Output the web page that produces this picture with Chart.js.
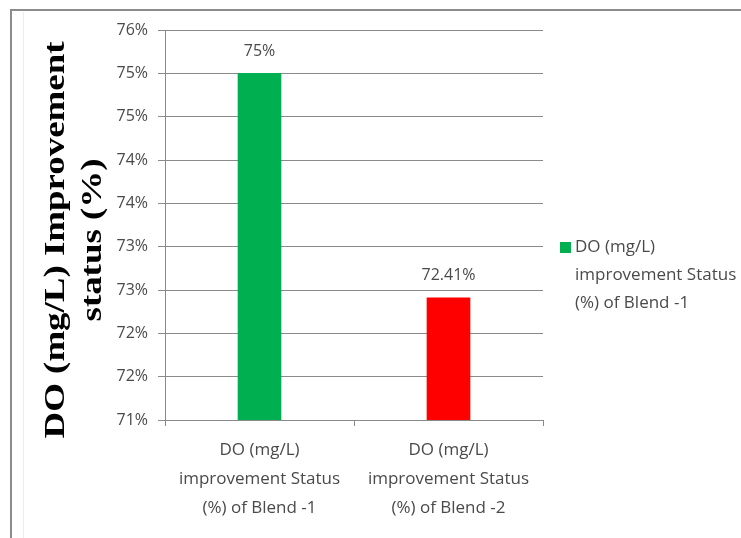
<!DOCTYPE html>
<html>
<head>
<meta charset="utf-8">
<script src="https://cdn.jsdelivr.net/npm/chart.js@4.4.0/dist/chart.umd.min.js"></script>
<style>
  html, body { margin: 0; padding: 0; background: #ffffff; }
  #wrap { width: 741px; height: 538px; position: relative; }
</style>
</head>
<body>
<div id="wrap"><canvas id="chart" width="741" height="538"></canvas></div>
<script>
// Chart data
const categories = [
  ['DO (mg/L)', 'improvement Status', '(%) of Blend -1'],
  ['DO (mg/L)', 'improvement Status', '(%) of Blend -2']
];
const improvementPct = [75, 72.41];
const barColors = ['#00B050', '#FF0000'];
const seriesName = ['DO (mg/L)', 'improvement Status', '(%) of Blend -1'];
const yTitleLines = ['DO (mg/L) Improvement', 'status (%)'];
const yMin = 71;
const yMax = 75.5;
const yStep = 0.5;

const TEXT_COLOR = '#4a4a4a';
const LINE_COLOR = '#8a8a8a';
const SANS = "'Open Sans', 'Liberation Sans', sans-serif";

// White background plus the grey frame along the left and top edges
const framePlugin = {
  id: 'frame',
  beforeDraw(chart) {
    const ctx = chart.ctx;
    ctx.save();
    ctx.fillStyle = '#ffffff';
    ctx.fillRect(0, 0, chart.width, chart.height);
    ctx.strokeStyle = '#8c8c8c';
    ctx.lineWidth = 2;
    ctx.beginPath();
    ctx.moveTo(11, chart.height);
    ctx.lineTo(11, 10);
    ctx.lineTo(chart.width, 10);
    ctx.stroke();
    ctx.strokeStyle = '#ededed';
    ctx.lineWidth = 1;
    ctx.beginPath();
    ctx.moveTo(23.5, chart.height);
    ctx.lineTo(23.5, 12);
    ctx.stroke();
    ctx.restore();
  }
};

// Percentage labels above each bar
const valueLabelPlugin = {
  id: 'valueLabels',
  afterDatasetsDraw(chart) {
    const ctx = chart.ctx;
    const meta = chart.getDatasetMeta(0);
    const values = chart.data.datasets[0].data;
    ctx.save();
    ctx.font = '16px ' + SANS;
    ctx.fillStyle = TEXT_COLOR;
    ctx.textAlign = 'center';
    ctx.textBaseline = 'middle';
    meta.data.forEach((bar, i) => {
      ctx.fillText(values[i] + '%', bar.x, bar.y - 22);
    });
    ctx.restore();
  }
};

// Bold serif y-axis title, two lines, reading bottom to top
const yTitlePlugin = {
  id: 'yTitle',
  afterDraw(chart) {
    const ctx = chart.ctx;
    ctx.save();
    ctx.fillStyle = '#000000';
    ctx.font = "bold 30px 'Liberation Serif', 'Times New Roman', serif";
    ctx.textAlign = 'center';
    ctx.textBaseline = 'middle';
    const xs = [56, 93];
    const cy = 240;
    yTitleLines.forEach((line, i) => {
      ctx.save();
      ctx.translate(xs[i], cy);
      ctx.rotate(-Math.PI / 2);
      ctx.scale(1.23, 1);
      ctx.fillText(line, 0, 0);
      ctx.restore();
    });
    ctx.restore();
  }
};

// Legend on the right: one swatch with a wrapped series name
const legendPlugin = {
  id: 'sideLegend',
  afterDraw(chart) {
    const ctx = chart.ctx;
    ctx.save();
    const x0 = 560, y0 = 247;
    ctx.fillStyle = barColors[0];
    ctx.fillRect(x0, y0 - 5, 11, 11);
    ctx.font = '17px ' + SANS;
    ctx.fillStyle = TEXT_COLOR;
    ctx.textAlign = 'left';
    ctx.textBaseline = 'middle';
    seriesName.forEach((line, i) => {
      ctx.fillText(line, x0 + 15, y0 + i * 28);
    });
    ctx.restore();
  }
};

new Chart(document.getElementById('chart'), {
  type: 'bar',
  data: {
    labels: categories,
    datasets: [{
      label: seriesName.join(' '),
      data: improvementPct,
      backgroundColor: barColors,
      borderWidth: 0,
      barThickness: 43
    }]
  },
  options: {
    responsive: false,
    animation: false,
    devicePixelRatio: 1,
    layout: { padding: { top: 30, right: 198, bottom: 0, left: 0 } },
    plugins: {
      legend: { display: false },
      tooltip: { enabled: false }
    },
    scales: {
      x: {
        offset: true,
        grid: {
          offset: true,
          drawOnChartArea: false,
          drawTicks: true,
          tickLength: 6,
          color: LINE_COLOR
        },
        border: { color: LINE_COLOR, width: 1 },
        ticks: {
          color: TEXT_COLOR,
          font: { family: SANS, size: 17, lineHeight: 1.7 },
          padding: 10,
          maxRotation: 0,
          autoSkip: false
        },
        afterFit(scale) { scale.height = 118; }
      },
      y: {
        min: yMin,
        max: yMax,
        grid: { color: LINE_COLOR, tickLength: 7 },
        border: { color: LINE_COLOR, width: 1 },
        ticks: {
          stepSize: yStep,
          color: TEXT_COLOR,
          font: { family: SANS, size: 16 },
          padding: 10,
          callback: (v) => Math.round(v) + '%'
        },
        afterFit(scale) { scale.width = 165; }
      }
    }
  },
  plugins: [framePlugin, valueLabelPlugin, yTitlePlugin, legendPlugin]
});
</script>
</body>
</html>
